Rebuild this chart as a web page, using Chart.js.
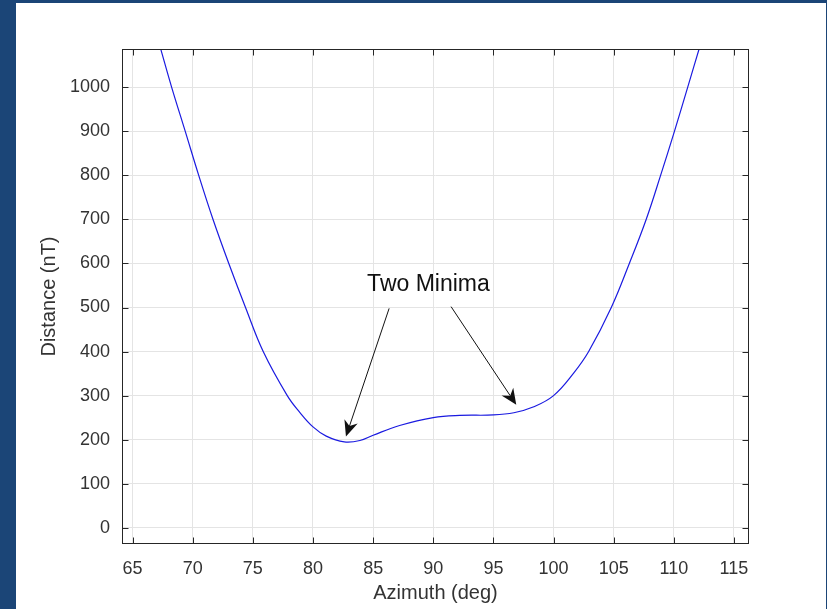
<!DOCTYPE html>
<html><head><meta charset="utf-8">
<script src="https://cdn.jsdelivr.net/npm/chart.js@4/dist/chart.umd.min.js"></script>
<style>
html,body{margin:0;padding:0;background:#1b4577;width:827px;height:609px;overflow:hidden}
#panel{position:absolute;left:16px;top:3px;width:810px;height:606px;background:#fff}
</style></head><body>
<div id="panel"><canvas id="c" width="810" height="606"></canvas></div>
<script>
const azimuth  = [67.36, 68.25, 69.38, 70.5, 71.69, 73.0, 74.39, 75.86, 77.86, 78.9, 80.0, 81.1, 82.6, 83.9, 85.0, 87.2, 90.0, 92.2, 95.0, 96.7, 98.3, 100.0, 101.67, 102.92, 104.8, 106.3, 107.7, 108.9, 110.05, 111.15, 112.1];
const distance = [1085, 1000, 900, 800, 700, 600, 500, 400, 300, 262, 229, 208, 195, 198, 210, 232, 250, 255, 256, 261, 274, 300, 351, 400, 500, 600, 700, 800, 900, 1000, 1087];
const xTickValues = [65, 70, 75, 80, 85, 90, 95, 100, 105, 110, 115];
const yTickValues = [0, 100, 200, 300, 400, 500, 600, 700, 800, 900, 1000];
const xTitle = 'Azimuth (deg)';
const yTitle = 'Distance (nT)';
const noteText = 'Two Minima';
const notePos = {x: 89.6, y: 553};
const arrows = [
  {from: {x: 86.33, y: 498}, to: {x: 82.74, y: 207}},
  {from: {x: 91.48, y: 502}, to: {x: 96.9, y: 279}}
];

const FONT = "'Liberation Sans', Arial, Helvetica, sans-serif";
const AXIS_COLOR = '#262626';

const framePlugin = {
  id: 'frame',
  afterDraw(chart) {
    const {ctx, chartArea: a, scales: {x, y}} = chart;
    ctx.save();
    ctx.strokeStyle = AXIS_COLOR;
    ctx.lineWidth = 1;
    const L = Math.round(a.left) + 0.5, R = Math.round(a.right) - 0.5;
    const T = Math.round(a.top) + 0.5, B = Math.round(a.bottom) - 0.5;
    ctx.strokeRect(L, T, R - L, B - T);
    ctx.beginPath();
    xTickValues.forEach(v => {
      const px = Math.round(x.getPixelForValue(v)) + 0.5;
      ctx.moveTo(px, B); ctx.lineTo(px, B - 6);
      ctx.moveTo(px, T); ctx.lineTo(px, T + 6);
    });
    yTickValues.forEach(v => {
      const py = Math.round(y.getPixelForValue(v)) + 0.5;
      ctx.moveTo(L, py); ctx.lineTo(L + 6, py);
      ctx.moveTo(R, py); ctx.lineTo(R - 6, py);
    });
    ctx.stroke();

    ctx.fillStyle = '#111';
    ctx.font = '23px ' + FONT;
    ctx.textAlign = 'center';
    ctx.textBaseline = 'middle';
    ctx.fillText(noteText, x.getPixelForValue(notePos.x), y.getPixelForValue(notePos.y));

    ctx.strokeStyle = '#111';
    ctx.fillStyle = '#111';
    ctx.lineWidth = 1;
    arrows.forEach(ar => {
      const x0 = x.getPixelForValue(ar.from.x), y0 = y.getPixelForValue(ar.from.y);
      const x1 = x.getPixelForValue(ar.to.x), y1 = y.getPixelForValue(ar.to.y);
      const ang = Math.atan2(y1 - y0, x1 - x0);
      const len = 16, half = 7, notch = 11;
      const ux = Math.cos(ang), uy = Math.sin(ang);
      const bx = x1 - ux * len, by = y1 - uy * len;
      const nx = x1 - ux * notch, ny = y1 - uy * notch;
      ctx.beginPath();
      ctx.moveTo(x0, y0); ctx.lineTo(nx, ny);
      ctx.stroke();
      ctx.beginPath();
      ctx.moveTo(x1, y1);
      ctx.lineTo(bx - uy * half, by + ux * half);
      ctx.lineTo(nx, ny);
      ctx.lineTo(bx + uy * half, by - ux * half);
      ctx.closePath();
      ctx.fill();
    });
    ctx.restore();
  }
};

new Chart(document.getElementById('c'), {
  type: 'scatter',
  data: {
    datasets: [{
      data: azimuth.map((a, i) => ({x: a, y: distance[i]})),
      showLine: true,
      borderColor: '#1a1ae0',
      borderWidth: 1.2,
      pointRadius: 0,
      tension: 0.4,
      fill: false
    }]
  },
  options: {
    responsive: false,
    animation: false,
    events: [],
    layout: {padding: {left: 0, top: 46, right: 77, bottom: 0}},
    plugins: {legend: {display: false}, tooltip: {enabled: false}},
    scales: {
      x: {
        type: 'linear', min: 64.12, max: 116.25,
        afterBuildTicks: s => { s.ticks = xTickValues.map(v => ({value: v})); },
        afterFit: s => { s.height = 65; },
        grid: {color: '#e4e4e4', drawTicks: false, lineWidth: 1},
        border: {display: false},
        ticks: {font: {family: FONT, size: 18}, color: '#333', padding: 14, maxRotation: 0, callback: v => String(v)},
        title: {display: true, text: xTitle, font: {family: FONT, size: 20}, color: '#333', padding: {top: 0, bottom: 4}}
      },
      y: {
        type: 'linear', min: -37, max: 1087,
        afterBuildTicks: s => { s.ticks = yTickValues.map(v => ({value: v})); },
        afterFit: s => { s.width = 106; },
        grid: {color: '#e4e4e4', drawTicks: false, lineWidth: 1},
        border: {display: false},
        ticks: {font: {family: FONT, size: 18}, color: '#333', padding: 12, callback: v => String(v)},
        title: {display: true, text: yTitle, font: {family: FONT, size: 20}, color: '#333', padding: {top: 21, bottom: 0}}
      }
    }
  },
  plugins: [framePlugin]
});
</script>
</body></html>
